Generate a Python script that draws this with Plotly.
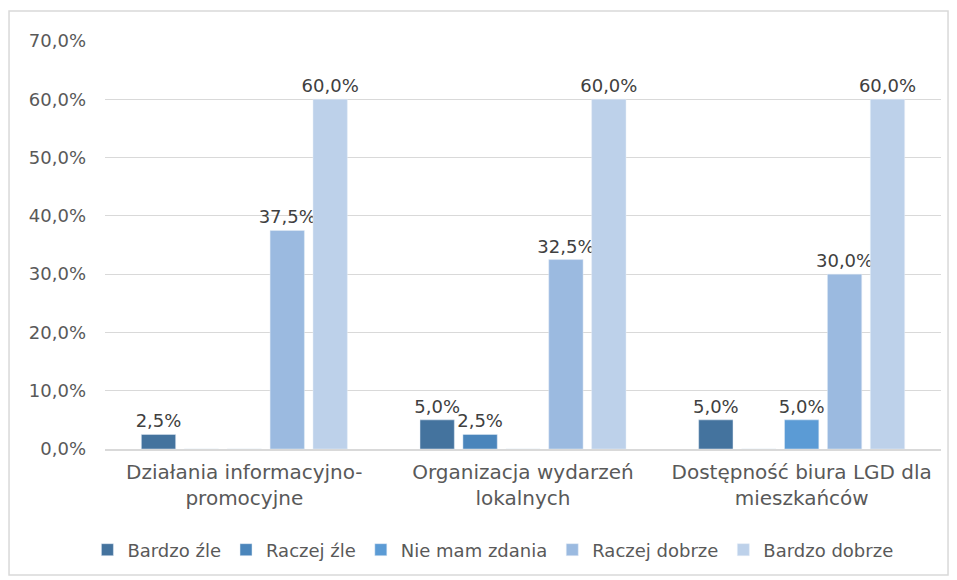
import plotly.graph_objects as go

# dane z wykresu (w %)
kategorie = ["Działania informacyjno-<br>promocyjne",
             "Organizacja wydarzeń<br>lokalnych",
             "Dostępność biura LGD dla<br>mieszkańców"]
serie = ["Bardzo źle", "Raczej źle", "Nie mam zdania", "Raczej dobrze", "Bardzo dobrze"]
bardzo_zle = [2.5, 5.0, 5.0]
raczej_zle = [0, 2.5, 0]
nie_mam_zdania = [0, 0, 5.0]
raczej_dobrze = [37.5, 32.5, 30.0]
bardzo_dobrze = [60.0, 60.0, 60.0]
kolory = ["#44739E", "#4A85BB", "#5B9BD5", "#9BBAE0", "#BDD1EA"]
y_ticks = [0, 10, 20, 30, 40, 50, 60, 70]

wartosci = [bardzo_zle, raczej_zle, nie_mam_zdania, raczej_dobrze, bardzo_dobrze]

def fmt(v):
    return ("%.1f%%" % v).replace(".", ",")

czcionka = "DejaVu Sans, sans-serif"

fig = go.Figure()
for nazwa, vals, kol in zip(serie, wartosci, kolory):
    fig.add_trace(go.Bar(
        x=kategorie, y=vals, name=nazwa,
        marker_color=kol,
        text=[fmt(v) if v else "" for v in vals],
        textposition="outside",
        constraintext="none",
        textfont=dict(family=czcionka, size=18, color="#404040"),
        cliponaxis=False,
    ))

# strona ma 8px marginesu body, więc marginesy są przesunięte
fig.update_layout(
    width=957, height=580,
    barmode="group", bargap=0.23, bargroupgap=0.2,
    plot_bgcolor="white", paper_bgcolor="white",
    font=dict(family=czcionka, size=18, color="#595959"),
    margin=dict(l=97, r=24, t=33, b=139, autoexpand=False),
    legend=dict(orientation="h", x=0.464, xanchor="center", y=-0.2475, yanchor="middle",
                font=dict(size=18, color="#595959"), traceorder="normal",
                itemwidth=30, tracegroupgap=0),
    shapes=[dict(type="rect", xref="paper", yref="paper",
                 x0=-0.1148, x1=1.0084, y0=-0.3088, y1=1.0735,
                 line=dict(color="#D9D9D9", width=1.5), layer="below")],
)
fig.update_yaxes(range=[0, 70], tickvals=y_ticks, ticktext=[fmt(v) for v in y_ticks],
                 showgrid=True, gridcolor="#D9D9D9", gridwidth=1.3, zeroline=False,
                 ticks="", ticklen=0, tickfont=dict(size=18), ticklabelstandoff=18)
fig.update_xaxes(showline=True, linecolor="#D9D9D9", linewidth=1.5,
                 tickfont=dict(size=20), ticklabelstandoff=4)

fig.write_html("out.html")
